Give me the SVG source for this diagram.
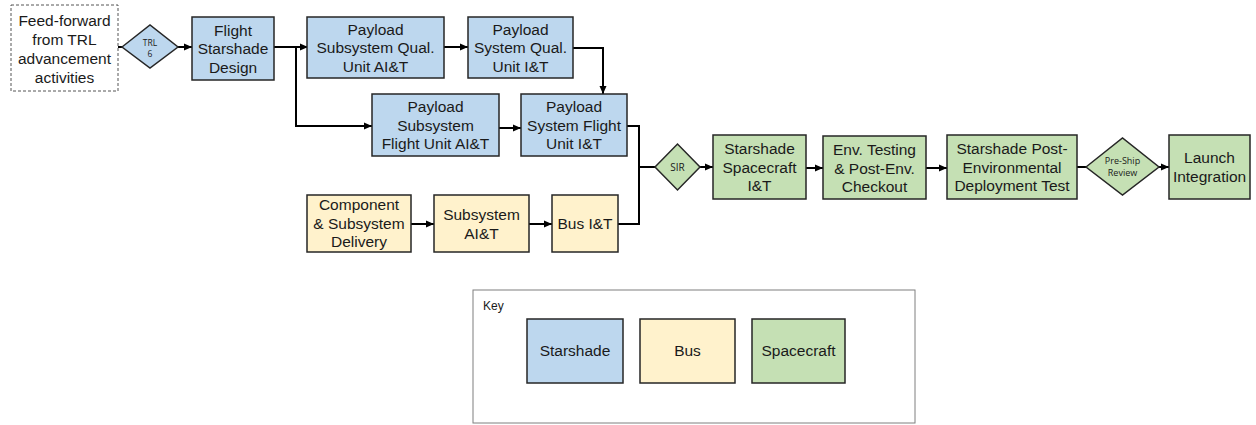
<svg xmlns="http://www.w3.org/2000/svg" width="1256" height="425" viewBox="0 0 1256 425">
<style>
.n{stroke:#262626;stroke-width:1.5}
.sb{fill:#BDD7EE}.by{fill:#FFF2CC}.sg{fill:#C5E0B4}
.t{font-family:"Liberation Sans",Arial,sans-serif;font-size:15.5px;fill:#1a1a1a;text-anchor:middle}
.d{font-family:"Open Sans","Noto Sans",sans-serif;font-size:8.5px;fill:#1a1a1a;text-anchor:middle}
.c{fill:none;stroke:#000;stroke-width:2}
</style>
<defs>
<marker id="a" markerUnits="userSpaceOnUse" markerWidth="10" markerHeight="10" refX="9" refY="5" orient="auto">
<path d="M1,1.5 L9,5 L1,8.5 Z" fill="#000"/>
</marker>
</defs>
<rect width="1256" height="425" fill="#fff"/>
<g id="connectors">
<path class="c" d="M118,47 H122"/>
<path class="c" d="M178,47 H192" marker-end="url(#a)"/>
<path class="c" d="M274,47 H308" marker-end="url(#a)"/>
<path class="c" d="M296,47 V126 H372" marker-end="url(#a)"/>
<path class="c" d="M444,47 H468" marker-end="url(#a)"/>
<path class="c" d="M573,48 H603 V94" marker-end="url(#a)"/>
<path class="c" d="M499,128 H521" marker-end="url(#a)"/>
<path class="c" d="M627,126 H639 V224 H618"/>
<path class="c" d="M639,167 H655"/>
<path class="c" d="M700,167 H713" marker-end="url(#a)"/>
<path class="c" d="M806,168 H823" marker-end="url(#a)"/>
<path class="c" d="M926,168 H947" marker-end="url(#a)"/>
<path class="c" d="M1077,167 H1086"/>
<path class="c" d="M1159,167 H1169" marker-end="url(#a)"/>
<path class="c" d="M411,224 H434" marker-end="url(#a)"/>
<path class="c" d="M529,224 H552" marker-end="url(#a)"/>
</g>
<g id="feedforward">
<rect x="11" y="5" width="107" height="86" fill="#fff" stroke="#555" stroke-width="1" stroke-dasharray="3,2"/>
<text class="t" x="64.5"><tspan x="64.5" y="26">Feed-forward</tspan><tspan x="64.5" y="45">from TRL</tspan><tspan x="64.5" y="64">advancement</tspan><tspan x="64.5" y="83">activities</tspan></text>
</g>
<g id="trl6">
<polygon class="n sb" points="122,47 150,25 178,47 150,68"/>
<text class="d" x="150" y="46">TRL</text>
<text class="d" x="150" y="56.5">6</text>
</g>
<g id="flight-design">
<rect class="n sb" x="192" y="17" width="82" height="63"/>
<text class="t"><tspan x="233" y="35.5">Flight</tspan><tspan x="233" y="54">Starshade</tspan><tspan x="233" y="72.5">Design</tspan></text>
</g>
<g id="psq">
<rect class="n sb" x="307" y="17" width="137" height="61"/>
<text class="t"><tspan x="375.5" y="34.5">Payload</tspan><tspan x="375.5" y="53">Subsystem Qual.</tspan><tspan x="375.5" y="71.5">Unit AI&amp;T</tspan></text>
</g>
<g id="psysq">
<rect class="n sb" x="468" y="17" width="105" height="61"/>
<text class="t"><tspan x="520.5" y="34.5">Payload</tspan><tspan x="520.5" y="53">System Qual.</tspan><tspan x="520.5" y="71.5">Unit I&amp;T</tspan></text>
</g>
<g id="psubf">
<rect class="n sb" x="372" y="94" width="127" height="62"/>
<text class="t"><tspan x="435.5" y="112">Payload</tspan><tspan x="435.5" y="130.5">Subsystem</tspan><tspan x="435.5" y="149">Flight Unit AI&amp;T</tspan></text>
</g>
<g id="psysf">
<rect class="n sb" x="521" y="94" width="106" height="62"/>
<text class="t"><tspan x="574" y="112">Payload</tspan><tspan x="574" y="130.5">System Flight</tspan><tspan x="574" y="149">Unit I&amp;T</tspan></text>
</g>
<g id="component">
<rect class="n by" x="307" y="195" width="104" height="57"/>
<text class="t"><tspan x="359" y="210">Component</tspan><tspan x="359" y="228.5">&amp; Subsystem</tspan><tspan x="359" y="247">Delivery</tspan></text>
</g>
<g id="subsystem">
<rect class="n by" x="434" y="195" width="95" height="57"/>
<text class="t"><tspan x="481.5" y="220">Subsystem</tspan><tspan x="481.5" y="238.5">AI&amp;T</tspan></text>
</g>
<g id="bus">
<rect class="n by" x="552" y="195" width="66" height="57"/>
<text class="t" x="585" y="229">Bus I&amp;T</text>
</g>
<g id="sir">
<polygon class="n sg" points="655,167 677.5,144 700,167 677.5,190"/>
<text class="d" x="677.5" y="171" style="font-size:10px">SIR</text>
</g>
<g id="ss-it">
<rect class="n sg" x="713" y="135" width="93" height="64"/>
<text class="t"><tspan x="759.5" y="154">Starshade</tspan><tspan x="759.5" y="172.5">Spacecraft</tspan><tspan x="759.5" y="191">I&amp;T</tspan></text>
</g>
<g id="env">
<rect class="n sg" x="823" y="136" width="103" height="63"/>
<text class="t"><tspan x="874.5" y="155">Env. Testing</tspan><tspan x="874.5" y="173.5">&amp; Post-Env.</tspan><tspan x="874.5" y="192">Checkout</tspan></text>
</g>
<g id="post-env">
<rect class="n sg" x="947" y="135" width="130" height="64"/>
<text class="t"><tspan x="1012" y="154">Starshade Post-</tspan><tspan x="1012" y="172.5">Environmental</tspan><tspan x="1012" y="191">Deployment Test</tspan></text>
</g>
<g id="preship">
<polygon class="n sg" points="1086,167 1122.5,138 1159,167 1122.5,195"/>
<text class="d" x="1122.5" y="164" style="font-size:9px">Pre-Ship</text>
<text class="d" x="1122.5" y="175.5" style="font-size:9px">Review</text>
</g>
<g id="launch">
<rect class="n sg" x="1169" y="135" width="81" height="64"/>
<text class="t"><tspan x="1209.5" y="163">Launch</tspan><tspan x="1209.5" y="181.5">Integration</tspan></text>
</g>
<g id="key">
<rect x="473" y="290" width="442" height="133" fill="#fff" stroke="#7f7f7f" stroke-width="1"/>
<text x="483" y="310" style="font-family:'Liberation Sans',Arial,sans-serif;font-size:12px;fill:#1a1a1a">Key</text>
<rect class="n sb" x="527" y="319" width="96" height="64"/>
<text class="t" x="575" y="356">Starshade</text>
<rect class="n by" x="640" y="319" width="95" height="64"/>
<text class="t" x="687.5" y="356">Bus</text>
<rect class="n sg" x="752" y="319" width="93" height="64"/>
<text class="t" x="798.5" y="356">Spacecraft</text>
</g>
</svg>
